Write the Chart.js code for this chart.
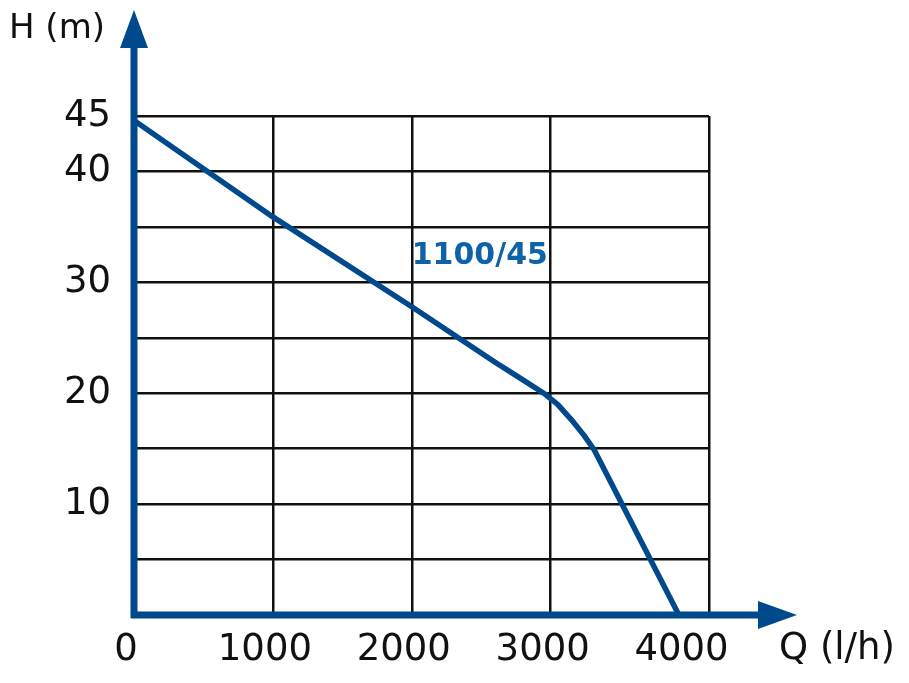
<!DOCTYPE html>
<html>
<head>
<meta charset="utf-8">
<script src="https://cdn.jsdelivr.net/npm/chart.js@4"></script>
<style>
  html, body { margin: 0; padding: 0; background: #fff; }
  #wrap { width: 909px; height: 683px; }
</style>
</head>
<body>
<div id="wrap"><canvas id="curveChart" width="909" height="683"></canvas></div>
<script>
// Pump curve 1100/45 : flow Q (l/h) against head H (m)
const flowValues = [0, 1000, 2000, 2600, 2800, 2950, 3050, 3150, 3240, 3313, 3923];
const headValues = [44.6, 35.9, 27.8, 22.8, 21.2, 20.0, 19.0, 17.6, 16.2, 14.9, 0];
const xTickLabels = ['0', '1000', '2000', '3000', '4000'];
const yTickLabels = ['10', '20', '30', '40', '45'];
const xGridValues = [0, 1000, 2000, 3000, 4000, 4140];
const curveName = '1100/45';

const axisBlue = '#00498c';
const tickFont = { family: 'DejaVu Sans', size: 37 };

// Axes with arrows, axis titles and curve label
const arrowAxes = {
    id: 'arrowAxes',
    afterDraw(chart) {
        const c = chart.ctx;
        const xs = chart.scales.x, ys = chart.scales.y;
        const x0 = xs.getPixelForValue(0);
        const y0 = ys.getPixelForValue(0);
        c.save();
        c.strokeStyle = axisBlue;
        c.fillStyle = axisBlue;
        c.lineWidth = 7;
        c.beginPath();
        c.moveTo(x0, y0 + 3);
        c.lineTo(x0, 46);
        c.moveTo(x0 - 3, y0);
        c.lineTo(760, y0);
        c.stroke();
        // arrow heads
        c.beginPath();
        c.moveTo(x0, 10);
        c.lineTo(x0 - 14, 48);
        c.lineTo(x0 + 14, 48);
        c.closePath();
        c.fill();
        c.beginPath();
        c.moveTo(797, y0);
        c.lineTo(758, y0 - 14);
        c.lineTo(758, y0 + 14);
        c.closePath();
        c.fill();

        c.fillStyle = '#111';
        c.textBaseline = 'middle';
        c.textAlign = 'left';
        c.font = '34px "DejaVu Sans"';
        c.fillText('H (m)', 9, 29);
        c.font = '37px "DejaVu Sans"';
        c.fillText('Q (l/h)', 779, 649);

        c.fillStyle = '#0d62a8';
        c.font = 'bold 30px "DejaVu Sans"';
        c.textAlign = 'center';
        c.fillText(curveName, xs.getPixelForValue(2490), ys.getPixelForValue(32.4));
        c.restore();
    }
};

const ctx = document.getElementById('curveChart').getContext('2d');

const curveChart = new Chart(ctx, {
    type: 'line',
    data: {
        labels: flowValues,
        datasets: [{
            label: curveName,
            data: flowValues.map((q, i) => ({ x: q, y: headValues[i] })),
            borderColor: axisBlue,
            borderWidth: 5.5,
            pointRadius: 0,
            tension: 0,
            borderJoinStyle: 'round',
            fill: false
        }]
    },
    options: {
        responsive: false,
        animation: false,
        layout: { padding: { left: 0, right: 200, top: 116, bottom: 0 } },
        plugins: {
            legend: { display: false },
            tooltip: { enabled: false }
        },
        scales: {
            x: {
                type: 'linear',
                min: 0,
                max: 4140,
                afterBuildTicks: (scale) => {
                    scale.ticks = xGridValues.map(v => ({ value: v }));
                },
                afterFit: (scale) => { scale.height = 68; },
                border: { display: false },
                grid: {
                    drawTicks: false,
                    lineWidth: 2.5,
                    color: (c) => (c.tick && c.tick.value === 4000) ? 'rgba(0,0,0,0)' : '#111'
                },
                ticks: {
                    padding: 13,
                    labelOffset: -8,
                    maxRotation: 0,
                    autoSkip: false,
                    color: '#111',
                    font: tickFont,
                    callback: (v) => xTickLabels.includes(String(v)) ? String(v) : ''
                }
            },
            y: {
                type: 'linear',
                min: 0,
                max: 45,
                afterFit: (scale) => { scale.width = 134; },
                border: { display: false },
                grid: { drawTicks: false, lineWidth: 2.5, color: '#111' },
                ticks: {
                    stepSize: 5,
                    padding: 23,
                    autoSkip: false,
                    color: '#111',
                    font: tickFont,
                    callback: (v) => yTickLabels.includes(String(v)) ? String(v) : ''
                }
            }
        }
    },
    plugins: [arrowAxes]
});
</script>
</body>
</html>
